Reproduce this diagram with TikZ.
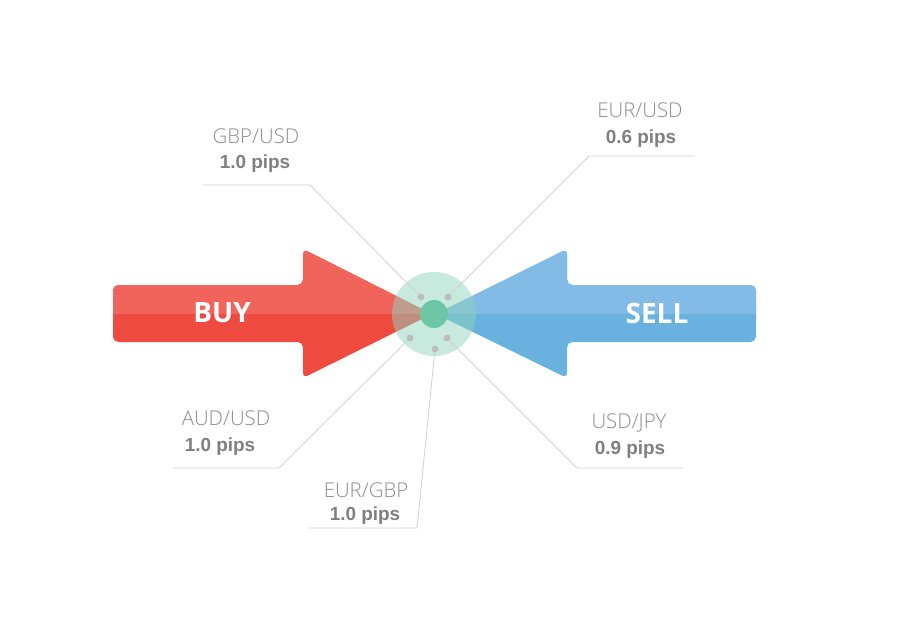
\documentclass[tikz,border=0pt]{standalone}
\usepackage{fontspec}
\setmainfont{Open Sans}
\IfFontExistsTF{Open Sans Light}{\newfontfamily\pairfont{Open Sans Light}}{\newfontfamily\pairfont{Open Sans}}
\newfontfamily\pipsfont{Liberation Sans}
\definecolor{buytop}{HTML}{F0645B}
\definecolor{buybot}{HTML}{EE4A40}
\definecolor{selltop}{HTML}{82BBE6}
\definecolor{sellbot}{HTML}{69B1DF}
\definecolor{hubring}{HTML}{8FD4BD}
\definecolor{hubcore}{HTML}{6DC6A6}
\definecolor{dotgrey}{HTML}{BDBDBD}
\definecolor{leadgrey}{HTML}{D0D0D0}
\definecolor{pairgrey}{HTML}{8C8C8C}
\definecolor{pipsgrey}{HTML}{7F7F7F}
\tikzset{
  pairdot/.style={circle, fill=dotgrey, minimum size=5.2pt, inner sep=0pt},
  leader/.style={draw=leadgrey, line width=0.6pt},
  pairname/.style={text=pairgrey, font=\pairfont\fontsize{15.3}{17}\selectfont},
  pipsval/.style={text=pipsgrey, font=\pipsfont\bfseries\fontsize{14.2}{16}\selectfont},
  sidelabel/.style={text=white, font=\bfseries\fontsize{21}{24}\selectfont}
}
\begin{document}
\begin{tikzpicture}[x=0.75pt, y=-0.75pt]
\useasboundingbox (0,0) rectangle (902,638);
% buy arrow
\fill [buybot] (432,314) [rounded corners=4pt] -- (303,249) -- (303,285) -- (113,285) -- (113,342) -- (303,342) -- (303,378) [sharp corners] -- cycle;
\begin{scope}
\clip (100,240) rectangle (440,313.5);
\fill [buytop] (432,314) [rounded corners=4pt] -- (303,249) -- (303,285) -- (113,285) -- (113,342) -- (303,342) -- (303,378) [sharp corners] -- cycle;
\end{scope}
% sell arrow
\fill [sellbot] (436,314) [rounded corners=4pt] -- (567,249) -- (567,285) -- (756,285) -- (756,342) -- (567,342) -- (567,378) [sharp corners] -- cycle;
\begin{scope}
\clip (428,240) rectangle (770,313.5);
\fill [selltop] (436,314) [rounded corners=4pt] -- (567,249) -- (567,285) -- (756,285) -- (756,342) -- (567,342) -- (567,378) [sharp corners] -- cycle;
\end{scope}
\node [sidelabel] (buy) at (222,313) {BUY};
\node [sidelabel] (sell) at (657,313) {SELL};
% hub
\node [circle, fill=hubring, fill opacity=0.5, minimum size=63pt, inner sep=0pt] (hub) at (434,314) {};
\node [circle, fill=hubcore, minimum size=21pt, inner sep=0pt] (core) at (434,314) {};
\node [pairdot] (dgbp) at (421,297) {};
\node [pairdot] (deur) at (448,297) {};
\node [pairdot] (daud) at (410,338) {};
\node [pairdot] (djpy) at (447,338) {};
\node [pairdot] (deg) at (435,349) {};
% leader lines
\coordinate (gbpbend) at (310,185);
\coordinate (gbpend) at (203,185);
\coordinate (eurbend) at (589,156);
\coordinate (eurend) at (695,156);
\coordinate (audbend) at (279,468);
\coordinate (audend) at (173,468);
\coordinate (egbend) at (417,528);
\coordinate (egend) at (308,528);
\coordinate (jpybend) at (577,468);
\coordinate (jpyend) at (683,468);
\draw [leader] (dgbp) -- (gbpbend) -- (gbpend);
\draw [leader] (deur) -- (eurbend) -- (eurend);
\draw [leader] (daud) -- (audbend) -- (audend);
\draw [leader] (deg) -- (egbend) -- (egend);
\draw [leader] (djpy) -- (jpybend) -- (jpyend);
% labels
\node [pairname] (gbpname) at (256,136) {GBP/USD};
\node [pipsval] (gbppips) at (255,164) {1.0 pips};
\node [pairname] (eurname) at (640,110) {EUR/USD};
\node [pipsval] (eurpips) at (641,139) {0.6 pips};
\node [pairname] (audname) at (226,418) {AUD/USD};
\node [pipsval] (audpips) at (220,447) {1.0 pips};
\node [pairname] (egname) at (366,490) {EUR/GBP};
\node [pipsval] (egpips) at (365,516) {1.0 pips};
\node [pairname] (jpyname) at (629,423) {USD/JPY};
\node [pipsval] (jpypips) at (630,450) {0.9 pips};
\end{tikzpicture}
\end{document}
